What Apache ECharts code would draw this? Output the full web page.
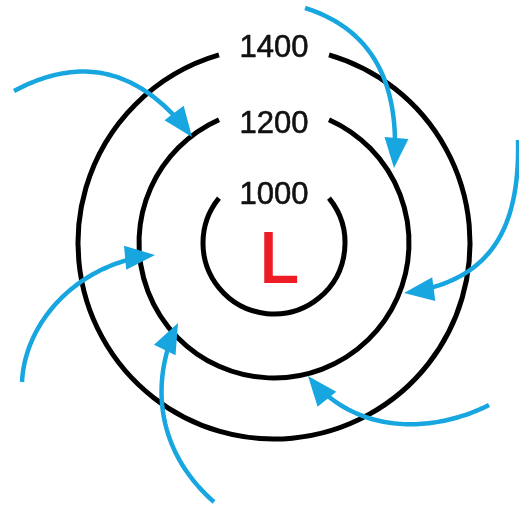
<!DOCTYPE html>
<html>
<head>
<meta charset="utf-8">
<script src="https://cdn.jsdelivr.net/npm/echarts@6/dist/echarts.min.js"></script>
<style>
  html, body { margin: 0; padding: 0; background: #fff; }
  #chart { width: 519px; height: 510px; }
</style>
</head>
<body>
<div id="chart"></div>
<script>
// isobars around the low, radius in diagram units (centre of the low = 0,0)
const ringLabels = ['1000', '1200', '1400']
const ringRadius = [71, 135, 196]
const ringLabelY = [48, 119, 195]

// low pressure marker
const lowLabel = 'L'
const lowPos = [5, -20]

// wind arrows: cubic curve start, control 1, control 2, tip
const arrows = [
  [-260, 152, -191, 189, -132, 173, -82, 106],
  [31, 235, 98, 214, 127, 160, 120, 75],
  [244, 103, 246, 13, 216, -39, 130, -50],
  [-252, -139, -249, -77, -194, -19, -119, -12],
  [-60, -259, -119, -207, -124, -137, -96, -80],
  [215, -162, 166, -187, 86, -197, 34, -133]
]

const GAP = 55   // half width of the gap where the label sits
const BLUE = '#17a6e0'
const RED = '#ee1c24'

const chart = echarts.init(document.getElementById('chart'))

function bez(p, t) {
  const u = 1 - t
  return [
    u*u*u*p[0][0] + 3*u*u*t*p[1][0] + 3*u*t*t*p[2][0] + t*t*t*p[3][0],
    u*u*u*p[0][1] + 3*u*u*t*p[1][1] + 3*u*t*t*p[2][1] + t*t*t*p[3][1]
  ]
}

chart.setOption({
  animation: false,
  grid: { left: 0, right: 0, top: 0, bottom: 0 },
  xAxis: { type: 'value', min: -274, max: 245, show: false },
  yAxis: { type: 'value', min: -267, max: 243, show: false },
  series: [
    {
      type: 'custom',
      data: ringRadius.map((r, i) => [r, ringLabelY[i], i]),
      dimensions: ['r', 'ly', 'i'],
      encode: { x: 0, y: 1 },
      renderItem: function (params, api) {
        const c = api.coord([0, 0])
        const r = api.size([api.value(0), 0])[0]
        const lp = api.coord([0, api.value(1)])
        const g = Math.asin(Math.min(1, GAP / r))
        return {
          type: 'group',
          children: [
            {
              type: 'arc',
              shape: { cx: c[0], cy: c[1], r: r, startAngle: -Math.PI / 2 + g, endAngle: Math.PI * 1.5 - g, clockwise: true },
              style: { stroke: '#000', lineWidth: 5, fill: null }
            },
            {
              type: 'text',
              style: {
                text: ringLabels[api.value(2)], x: lp[0], y: lp[1],
                align: 'center', verticalAlign: 'middle',
                font: '31px "Liberation Sans", Arial, sans-serif', fill: '#111',
                stroke: '#111', lineWidth: 0.6
              }
            }
          ]
        }
      }
    },
    {
      type: 'custom',
      data: arrows,
      dimensions: ['x0', 'y0', 'x1', 'y1', 'x2', 'y2', 'x3', 'y3'],
      encode: { x: [0, 2, 4, 6], y: [1, 3, 5, 7] },
      renderItem: function (params, api) {
        const p = []
        for (let k = 0; k < 4; k++) p.push(api.coord([api.value(2*k), api.value(2*k + 1)]))
        const tip = p[3]
        const headLen = 30, headW = 12
        const pts = []
        for (let s = 0; s <= 60; s++) {
          const q = bez(p, s / 60)
          if (Math.hypot(q[0] - tip[0], q[1] - tip[1]) < headLen * 0.7) break
          pts.push(q)
        }
        let dx = tip[0] - p[2][0], dy = tip[1] - p[2][1]
        const len = Math.hypot(dx, dy)
        dx /= len; dy /= len
        const bx = tip[0] - dx * headLen, by = tip[1] - dy * headLen
        return {
          type: 'group',
          children: [
            {
              type: 'polyline',
              shape: { points: pts },
              style: { stroke: BLUE, lineWidth: 4.5, fill: null }
            },
            {
              type: 'polygon',
              shape: { points: [tip, [bx - dy * headW, by + dx * headW], [bx + dy * headW, by - dx * headW]] },
              style: { fill: BLUE }
            }
          ]
        }
      }
    },
    {
      type: 'custom',
      data: [lowPos],
      encode: { x: 0, y: 1 },
      renderItem: function (params, api) {
        const pt = api.coord([api.value(0), api.value(1)])
        return {
          type: 'text',
          style: {
            text: lowLabel, x: pt[0], y: pt[1],
            align: 'center', verticalAlign: 'middle',
            font: '70px "Liberation Sans", Arial, sans-serif',
            fill: RED, stroke: RED, lineWidth: 2
          }
        }
      }
    }
  ]
})
</script>
</body>
</html>
